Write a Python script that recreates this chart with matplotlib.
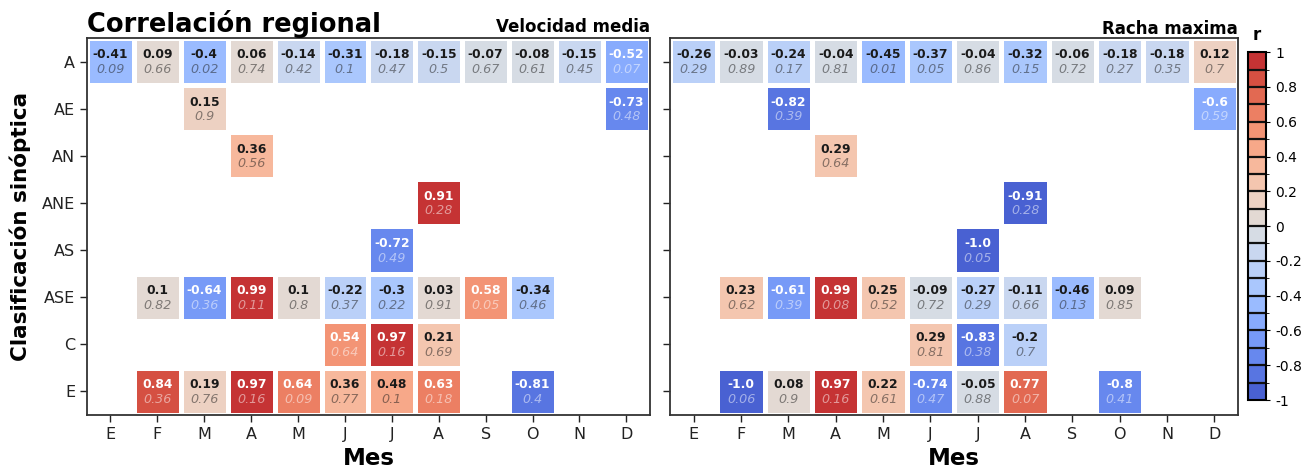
import numpy as np
import matplotlib
matplotlib.use("Agg")
import matplotlib.pyplot as plt
from matplotlib.colors import BoundaryNorm, ListedColormap

nan = np.nan

months = ["E", "F", "M", "A", "M", "J", "J", "A", "S", "O", "N", "D"]
types = ["A", "AE", "AN", "ANE", "AS", "ASE", "C", "E"]

# Velocidad media: correlation r and p-value
r_vel = [
    [-0.41, 0.09, -0.4, 0.06, -0.14, -0.31, -0.18, -0.15, -0.07, -0.08, -0.15, -0.52],
    [nan, nan, 0.15, nan, nan, nan, nan, nan, nan, nan, nan, -0.73],
    [nan, nan, nan, 0.36, nan, nan, nan, nan, nan, nan, nan, nan],
    [nan, nan, nan, nan, nan, nan, nan, 0.91, nan, nan, nan, nan],
    [nan, nan, nan, nan, nan, nan, -0.72, nan, nan, nan, nan, nan],
    [nan, 0.1, -0.64, 0.99, 0.1, -0.22, -0.3, 0.03, 0.58, -0.34, nan, nan],
    [nan, nan, nan, nan, nan, 0.54, 0.97, 0.21, nan, nan, nan, nan],
    [nan, 0.84, 0.19, 0.97, 0.64, 0.36, 0.48, 0.63, nan, -0.81, nan, nan],
]
p_vel = [
    [0.09, 0.66, 0.02, 0.74, 0.42, 0.1, 0.47, 0.5, 0.67, 0.61, 0.45, 0.07],
    [nan, nan, 0.9, nan, nan, nan, nan, nan, nan, nan, nan, 0.48],
    [nan, nan, nan, 0.56, nan, nan, nan, nan, nan, nan, nan, nan],
    [nan, nan, nan, nan, nan, nan, nan, 0.28, nan, nan, nan, nan],
    [nan, nan, nan, nan, nan, nan, 0.49, nan, nan, nan, nan, nan],
    [nan, 0.82, 0.36, 0.11, 0.8, 0.37, 0.22, 0.91, 0.05, 0.46, nan, nan],
    [nan, nan, nan, nan, nan, 0.64, 0.16, 0.69, nan, nan, nan, nan],
    [nan, 0.36, 0.76, 0.16, 0.09, 0.77, 0.1, 0.18, nan, 0.4, nan, nan],
]

# Racha maxima
r_rac = [
    [-0.26, -0.03, -0.24, -0.04, -0.45, -0.37, -0.04, -0.32, -0.06, -0.18, -0.18, 0.12],
    [nan, nan, -0.82, nan, nan, nan, nan, nan, nan, nan, nan, -0.6],
    [nan, nan, nan, 0.29, nan, nan, nan, nan, nan, nan, nan, nan],
    [nan, nan, nan, nan, nan, nan, nan, -0.91, nan, nan, nan, nan],
    [nan, nan, nan, nan, nan, nan, -1.0, nan, nan, nan, nan, nan],
    [nan, 0.23, -0.61, 0.99, 0.25, -0.09, -0.27, -0.11, -0.46, 0.09, nan, nan],
    [nan, nan, nan, nan, nan, 0.29, -0.83, -0.2, nan, nan, nan, nan],
    [nan, -1.0, 0.08, 0.97, 0.22, -0.74, -0.05, 0.77, nan, -0.8, nan, nan],
]
p_rac = [
    [0.29, 0.89, 0.17, 0.81, 0.01, 0.05, 0.86, 0.15, 0.72, 0.27, 0.35, 0.7],
    [nan, nan, 0.39, nan, nan, nan, nan, nan, nan, nan, nan, 0.59],
    [nan, nan, nan, 0.64, nan, nan, nan, nan, nan, nan, nan, nan],
    [nan, nan, nan, nan, nan, nan, nan, 0.28, nan, nan, nan, nan],
    [nan, nan, nan, nan, nan, nan, 0.05, nan, nan, nan, nan, nan],
    [nan, 0.62, 0.39, 0.08, 0.52, 0.72, 0.29, 0.66, 0.13, 0.85, nan, nan],
    [nan, nan, nan, nan, nan, 0.81, 0.38, 0.7, nan, nan, nan, nan],
    [nan, 0.06, 0.9, 0.16, 0.61, 0.47, 0.88, 0.07, nan, 0.41, nan, nan],
]

# 20 discrete steps of coolwarm, sampled like seaborn's color_palette
bounds = np.linspace(-1, 1, 21)
cmap = ListedColormap(plt.get_cmap("coolwarm")(np.linspace(0, 1, 22)[1:-1]))
norm = BoundaryNorm(bounds, cmap.N)


def fmt(v):
    s = f"{v:.2f}".rstrip("0")
    if s.endswith("."):
        s += "0"
    return s


def panel(ax, r, p, subtitle):
    r = np.array(r, dtype=float)
    p = np.array(p, dtype=float)
    mesh = ax.pcolormesh(np.ma.masked_invalid(r), cmap=cmap, norm=norm,
                         edgecolors="white", linewidth=2.2)
    for i in range(r.shape[0]):
        for j in range(r.shape[1]):
            if np.isnan(r[i, j]):
                continue
            c = "white" if abs(r[i, j]) > 0.5 else "#1a1a1a"
            ax.text(j + 0.5, i + 0.36, fmt(r[i, j]), ha="center", va="center",
                    fontsize=8.8, fontweight="bold", color=c)
            ax.text(j + 0.5, i + 0.67, fmt(p[i, j]), ha="center", va="center",
                    fontsize=9.2, fontstyle="italic", color=c, alpha=0.5)
    ax.set_xlim(0, 12)
    ax.set_ylim(8, 0)
    ax.set_xticks(np.arange(12) + 0.5)
    ax.set_xticklabels(months)
    ax.set_yticks(np.arange(8) + 0.5)
    ax.tick_params(labelsize=11.5, length=5, width=1, colors="#222222")
    ax.set_xlabel("Mes", fontsize=16.5, fontweight="bold", labelpad=4)
    ax.set_title(subtitle, loc="right", fontsize=12, fontweight="bold", pad=3)
    for s in ax.spines.values():
        s.set_linewidth(1.3)
        s.set_color("#333333")
    return mesh


fig = plt.figure(figsize=(13.12, 4.72), dpi=100)
ax1 = fig.add_axes([0.0663, 0.121, 0.429, 0.7985])
ax2 = fig.add_axes([0.5107, 0.121, 0.433, 0.7985])
cax = fig.add_axes([0.9512, 0.1525, 0.0137, 0.737])

mesh = panel(ax1, r_vel, p_vel, "Velocidad media")
panel(ax2, r_rac, p_rac, "Racha maxima")

ax1.set_yticklabels(types)
ax1.set_ylabel("Clasificación sinóptica", fontsize=15.5, fontweight="bold", labelpad=8)
ax1.set_title("Correlación regional", loc="left", fontsize=18.5, fontweight="bold", pad=3)
ax2.set_yticklabels([])

cb = fig.colorbar(mesh, cax=cax, drawedges=True)
cb.set_ticks(np.linspace(-1, 1, 11))
cb.set_ticklabels(["-1", "-0.8", "-0.6", "-0.4", "-0.2", "0", "0.2", "0.4", "0.6", "0.8", "1"])
cb.ax.tick_params(labelsize=10, length=3)
cb.outline.set_linewidth(1.5)
cb.dividers.set_linewidth(1.6)
cb.dividers.set_color("#111111")
cb.ax.set_title("r", fontsize=12, fontweight="bold", pad=9)

fig.savefig("out.png", dpi=100)
